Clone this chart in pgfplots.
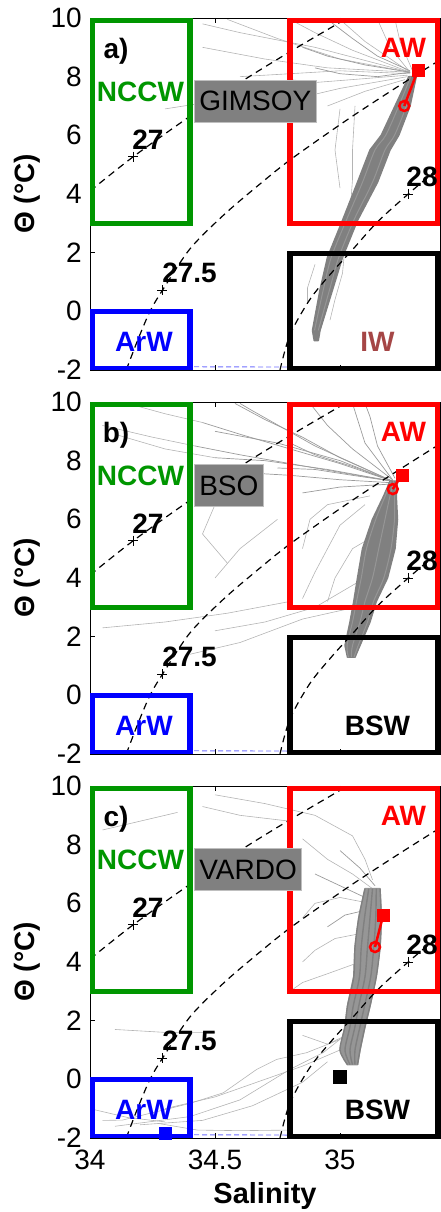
\documentclass[border=0pt]{standalone}
\usepackage{pgfplots}
\pgfplotsset{compat=1.18}
\usepackage{fontspec}
\setmainfont{Liberation Sans}
\definecolor{ncgreen}{RGB}{0,150,0}
\definecolor{iwred}{RGB}{165,70,70}
\definecolor{dgray}{RGB}{128,128,128}
\definecolor{lgray}{RGB}{150,150,150}
\definecolor{fgray}{RGB}{180,180,180}
\definecolor{mgray}{RGB}{155,155,155}
\definecolor{frzblue}{RGB}{110,110,255}
\newcommand\bigf{\fontsize{28}{32}\selectfont}

\tikzset{
 lab/.style={font=\bigf\bfseries, inner sep=0pt},
 graybox/.style={fill=dgray, draw=gray!50, line width=0.6pt, anchor=west, font=\bigf,
   text height=20pt, text depth=0pt, minimum height=42pt, inner xsep=5pt, inner ysep=0pt},
}
\pgfplotsset{
 ts/.style={
  scale only axis, width=350pt, height=352pt,
  xmin=34, xmax=35.4, ymin=-2, ymax=10,
  xtick={34,34.5,35}, ytick={-2,0,2,4,6,8,10},
  yticklabels={-2,0,2,4,6,8,10},
  tick align=inside, major tick length=5pt,
  every tick/.style={black, line width=0.6pt},
  axis line style={line width=0.7pt},
  yticklabel style={font=\bigf, inner sep=0pt, anchor=east, xshift=-8pt},
  xticklabel style={font=\bigf, inner sep=0pt, anchor=north, yshift=-12pt},
  ylabel={\bfseries Θ (°C)},
  ylabel style={font=\bigf, at={(axis description cs:-0.1786,0.5)}, anchor=center, inner sep=0pt},
  anchor=south west,
 },
 coreline/.style={color=lgray, line width=1pt, smooth, mark=none},
 corefill/.style={fill=dgray, draw=dgray, line width=1.5pt, line join=round, mark=none},
 thinl/.style={color=fgray, line width=0.6pt, mark=none},
 fanl/.style={color=mgray, line width=0.7pt, mark=none},
}

\newcommand\tsframe[2]{%
 \addplot[black, line width=1.2pt, dash pattern=on 7pt off 5pt, smooth] coordinates {(34,4.1)(34.173,5.27)(34.4,6.65)(34.6,7.8)(34.8,8.85)(35.03,10)};
 \addplot[black, line width=1.2pt, dash pattern=on 7pt off 5pt, smooth] coordinates {(34.145,-2)(34.19,-1)(34.24,0)(34.29,0.72)(34.4,2.13)(34.533,3.27)(34.66,4.2)(34.8,5.16)(35.027,6.52)(35.22,7.6)(35.4,8.57)};
 \addplot[black, line width=1.2pt, dash pattern=on 7pt off 5pt, smooth] coordinates {(34.76,-2)(34.8,-0.8)(34.88,0.41)(34.97,1.35)(35.05,2.1)(35.15,3.05)(35.273,4.0)(35.4,4.92)};
 \addplot[only marks, mark=+, mark size=5pt, black, mark options={line width=0.7pt}] coordinates {(34.173,5.27)(34.288,0.72)(35.273,4.0)};
 \addplot[frzblue, line width=0.9pt, dash pattern=on 5pt off 3pt, mark=none] coordinates {(34,-1.88)(34.8,-1.9)};
 \draw[ncgreen, line width=5.5pt] (axis cs:34.01,3.0) rectangle (axis cs:34.4,9.92);
 \draw[blue, line width=5.5pt] (axis cs:34.01,-1.95) rectangle (axis cs:34.4,0.0);
 \draw[red, line width=5.5pt] (axis cs:34.8,3.0) rectangle (axis cs:35.39,9.92);
 \draw[black, line width=5.5pt] (axis cs:34.8,-1.95) rectangle (axis cs:35.39,1.97);
 \node[lab, text=ncgreen] at (axis cs:34.202,7.48) {NCCW};
 \node[lab, text=red] at (axis cs:35.254,8.98) {AW};
 \node[lab, text=blue] at (axis cs:34.216,-1.03) {ArW};
 \node[lab, text=#2] at (axis cs:35.15,-1.03) {#1};
 \node[lab] at (axis cs:34.232,5.84) {27};
 \node[lab] at (axis cs:34.398,1.31) {27.5};
 \node[lab] at (axis cs:35.328,4.58) {28};
}

\begin{document}
\begin{tikzpicture}
\path[use as bounding box] (0,0) rectangle (441pt,1212pt);

% ---------------- panel a: GIMSOY
\begin{axis}[ts, at={(90pt,842pt)}, xticklabels={}]
 \addplot[thinl] coordinates {(35.28,8.15)(35.0,8.6)(34.75,9.3)(34.55,9.95)};
 \addplot[thinl] coordinates {(35.28,8.15)(34.95,8.3)(34.7,8.6)(34.45,9.0)};
 \addplot[thinl] coordinates {(35.28,8.15)(35.05,8.9)(34.9,9.5)(34.8,9.95)};
 \addplot[thinl] coordinates {(35.28,8.15)(35.1,9.2)(35.0,9.95)};
 \addplot[thinl] coordinates {(35.28,8.15)(35.2,9.0)(35.15,9.95)};
 \addplot[thinl] coordinates {(35.27,8.0)(35.0,7.6)(34.85,7.3)};
 \addplot[thinl] coordinates {(35.27,8.05)(35.05,7.9)(34.9,7.8)(34.8,7.9)};
 \addplot[thinl] coordinates {(35.29,8.2)(35.24,9.2)(35.22,9.95)};
 \addplot[thinl] coordinates {(35.26,7.9)(35.1,7.5)(34.95,7.0)};
 \addplot[thinl] coordinates {(35.28,8.15)(34.9,9.0)(34.6,9.5)(34.45,9.8)};
 \addplot[thinl] coordinates {(35.28,8.1)(35.0,8.2)(34.8,8.1)(34.6,8.0)};
 \addplot[fanl] coordinates {(35.28,8.15)(35.1,8.4)(34.95,8.7)(34.85,9.0)};
 \addplot[fanl] coordinates {(35.28,8.15)(35.15,8.0)(35.0,8.1)(34.9,8.3)};
 \addplot[fanl] coordinates {(35.28,8.2)(35.15,8.7)(35.05,9.3)(34.95,9.95)};
 \addplot[thinl] coordinates {(35.06,7.0)(35.05,5.5)(35.05,4.5)(35.04,3.3)};
 \addplot[thinl] coordinates {(35.0,6.9)(34.98,5.5)(35.0,4.2)};
 \addplot[thinl] coordinates {(35.02,2.2)(35.01,1.3)(34.98,0.4)(34.96,-0.3)};
 \addplot[thinl] coordinates {(34.97,1.5)(34.94,0.8)(34.92,0.1)};
 \addplot[thinl] coordinates {(34.9,1.6)(34.87,0.8)(34.87,0.3)};
 \addplot[thinl] coordinates {(34.3,6.9)(34.45,7.1)(34.55,7.3)};
 \addplot[corefill] coordinates {(35.275,8.0)(35.22,7.0)(35.165,6.0)(35.12,5.5)(35.07,4.4)(35.01,3.1)(34.95,1.84)(34.92,0.73)(34.89,-0.65)(34.897,-1.0)(34.913,-1.0)(34.92,-0.65)(34.97,0.73)(35.01,1.84)(35.07,3.1)(35.15,4.4)(35.2,5.5)(35.235,6.0)(35.28,7.0)(35.305,8.0)} --cycle;
 \addplot[coreline] coordinates {(35.283,8.0)(35.235,7.0)(35.183,6.0)(35.14,5.5)(35.09,4.4)(35.025,3.1)(34.965,1.84)(34.933,0.73)(34.898,-0.65)};
 \addplot[coreline] coordinates {(35.298,8.0)(35.265,7.0)(35.218,6.0)(35.18,5.5)(35.13,4.4)(35.055,3.1)(34.995,1.84)(34.958,0.73)(34.913,-0.65)};
 \tsframe{IW}{iwred}
 \addplot[red, line width=2.5pt, mark=none] coordinates {(35.257,7.0)(35.312,8.23)};
 \addplot[red, only marks, mark=square*, mark size=6pt] coordinates {(35.312,8.23)};
 \addplot[red, only marks, mark=o, mark size=5pt, mark options={line width=2.5pt, fill=white}] coordinates {(35.257,7.0)};
 \node[lab] at (axis cs:34.104,8.88) {a)};
 \node[graybox] at (axis cs:34.416,7.17) {GIMSOY};
\end{axis}

% ---------------- panel b: BSO
\begin{axis}[ts, at={(90pt,458pt)}, xticklabels={}]
 \addplot[thinl] coordinates {(34.42,8.5)(34.25,8.8)(34.05,9.2)};
 \addplot[thinl] coordinates {(34.45,9.3)(34.3,9.6)(34.15,9.95)};
 \addplot[thinl] coordinates {(34.5,8.1)(34.3,8.4)(34.1,8.9)};
 \addplot[thinl] coordinates {(35.1,6.5)(35.0,5.8)(34.95,5.0)(34.9,4.2)(34.85,3.3)};
 \addplot[thinl] coordinates {(35.15,5.5)(35.05,5.0)(34.98,4.0)(34.95,3.2)};
 \addplot[thinl] coordinates {(35.12,6.8)(34.95,6.5)(34.88,6.0)(34.85,5.0)};
 \addplot[thinl] coordinates {(35.1,4.0)(35.0,3.5)(34.9,3.0)(34.7,2.5)(34.5,2.2)};
 \addplot[thinl] coordinates {(35.06,3.0)(34.85,2.6)(34.6,1.8)(34.4,1.4)};
 \addplot[thinl] coordinates {(34.8,3.2)(34.55,2.8)(34.3,2.5)(34.05,2.3)};
 \addplot[thinl] coordinates {(34.75,6.0)(34.6,5.0)(34.5,4.0)};
 \addplot[thinl] coordinates {(34.5,6.5)(34.45,5.5)(34.55,4.5)};
 \addplot[fanl] coordinates {(35.21,7.3)(35.0,7.6)(34.8,7.9)(34.6,8.2)(34.42,8.5)};
 \addplot[fanl] coordinates {(35.21,7.3)(35.0,7.9)(34.8,8.4)(34.6,8.9)(34.45,9.3)};
 \addplot[fanl] coordinates {(35.21,7.3)(35.0,8.1)(34.85,8.8)(34.7,9.4)(34.58,9.95)};
 \addplot[fanl] coordinates {(35.21,7.35)(35.05,8.4)(34.95,9.2)(34.88,9.95)};
 \addplot[fanl] coordinates {(35.21,7.35)(35.1,8.6)(35.05,9.95)};
 \addplot[fanl] coordinates {(35.2,7.25)(35.0,7.35)(34.8,7.5)(34.6,7.6)};
 \addplot[fanl] coordinates {(35.2,7.2)(35.0,7.1)(34.85,6.9)};
 \addplot[fanl] coordinates {(35.21,7.3)(34.95,7.7)(34.7,8.0)(34.5,8.1)};
 \addplot[fanl] coordinates {(35.21,7.3)(34.9,8.5)(34.65,9.7)(34.6,9.95)};
 \addplot[fanl] coordinates {(35.22,7.4)(35.15,8.5)(35.12,9.5)(35.1,9.95)};
 \addplot[fanl] coordinates {(35.21,7.3)(35.05,7.5)(34.9,7.7)(34.75,7.75)};
 \addplot[fanl] coordinates {(35.21,7.3)(35.0,8.0)(34.75,8.6)(34.5,9.0)};
 \addplot[fanl] coordinates {(35.21,7.3)(35.05,7.8)(34.9,8.2)(34.8,8.6)};
 \addplot[corefill] coordinates {(35.2,7.3)(35.175,6.8)(35.13,6.0)(35.09,5.0)(35.07,4.0)(35.055,3.2)(35.04,2.5)(35.02,1.7)(35.03,1.3)(35.06,1.3)(35.08,1.7)(35.12,2.5)(35.145,3.2)(35.19,4.0)(35.22,5.0)(35.23,6.0)(35.225,6.8)(35.23,7.3)} --cycle;
 \addplot[coreline] coordinates {(35.204,7.3)(35.181,6.8)(35.143,6.0)(35.106,5.0)(35.085,4.0)(35.066,3.2)(35.05,2.5)(35.028,1.7)(35.034,1.3)};
 \addplot[coreline] coordinates {(35.215,7.3)(35.2,6.8)(35.18,6.0)(35.155,5.0)(35.13,4.0)(35.1,3.2)(35.08,2.5)(35.05,1.7)(35.045,1.3)};
 \addplot[coreline] coordinates {(35.226,7.3)(35.219,6.8)(35.218,6.0)(35.204,5.0)(35.175,4.0)(35.134,3.2)(35.11,2.5)(35.073,1.7)(35.056,1.3)};
 \tsframe{BSW}{black}
 \addplot[red, line width=2.5pt, mark=none] coordinates {(35.211,7.03)(35.247,7.51)};
 \addplot[red, only marks, mark=square*, mark size=6pt] coordinates {(35.247,7.51)};
 \addplot[red, only marks, mark=o, mark size=5pt, mark options={line width=2.5pt, fill=white}] coordinates {(35.211,7.03)};
 \node[lab] at (axis cs:34.104,8.88) {b)};
 \node[graybox] at (axis cs:34.416,7.17) {BSO};
\end{axis}

% ---------------- panel c: VARDO
\begin{axis}[ts, at={(90pt,74pt)}, xticklabels={34,34.5,35},
  xlabel={\bfseries Salinity},
  xlabel style={font=\fontsize{29}{32}\selectfont, at={(axis description cs:0.5,0)}, anchor=north, inner sep=0pt, yshift=-44pt}]
 \addplot[thinl] coordinates {(35.13,6.5)(35.05,7.0)(34.95,7.5)(34.85,8.2)};
 \addplot[thinl] coordinates {(35.12,6.0)(35.0,6.2)(34.9,6.0)(34.85,5.5)};
 \addplot[thinl] coordinates {(35.1,5.0)(34.98,4.8)(34.9,4.4)(34.85,4.0)};
 \addplot[thinl] coordinates {(35.08,4.0)(34.95,3.6)(34.85,3.3)(34.8,3.0)};
 \addplot[thinl] coordinates {(35.13,6.8)(35.1,7.5)(35.05,8.3)};
 \addplot[thinl] coordinates {(35.05,8.3)(34.9,9.0)(34.7,9.4)(34.5,9.7)};
 \addplot[thinl] coordinates {(34.8,8.8)(34.6,9.0)(34.45,9.3)};
 \addplot[thinl] coordinates {(34.35,9.1)(34.2,8.8)(34.05,8.5)};
 \addplot[thinl] coordinates {(34.1,1.7)(34.3,1.6)(34.5,1.6)};
 \addplot[thinl] coordinates {(34.05,-1.4)(34.13,-1.39)(34.4,-0.82)(34.533,-0.46)(34.667,0.34)(34.747,0.68)(34.867,0.91)(35.0,1.36)};
 \addplot[thinl] coordinates {(34.1,-1.6)(34.4,-1.27)(34.6,-0.7)(34.8,0.34)(34.933,0.91)(35.02,1.5)};
 \addplot[thinl] coordinates {(34.2,-1.55)(34.45,-1.4)(34.65,-0.9)(34.85,-0.1)(34.95,0.6)};
 \addplot[thinl] coordinates {(34.27,-1.5)(34.43,-1.73)(34.6,-1.75)(34.8,-1.73)};
 \addplot[thinl] coordinates {(34.3,-1.0)(34.5,-0.6)(34.7,0.0)(34.85,0.45)(35.0,1.0)};
 \addplot[thinl] coordinates {(34.0,-1.0)(34.15,-1.3)(34.3,-1.45)};
 \addplot[thinl] coordinates {(34.85,1.5)(34.95,1.2)(35.05,1.6)};
 \addplot[fanl] coordinates {(35.14,6.6)(35.08,7.2)(35.0,7.8)};
 \addplot[fanl] coordinates {(35.12,5.8)(35.02,5.6)(34.95,5.2)};
 \addplot[fanl] coordinates {(35.1,6.2)(35.0,6.6)(34.9,7.0)};
 \addplot[corefill, fill=lgray, draw=lgray] coordinates {(35.1,6.5)(35.075,5.5)(35.06,4.5)(35.055,3.5)(35.03,2.5)(35.02,1.8)(35.0,1.0)(35.03,0.5)(35.07,0.5)(35.08,1.0)(35.1,1.8)(35.12,2.5)(35.145,3.5)(35.16,4.5)(35.165,5.5)(35.16,6.5)} --cycle;
 \addplot[coreline, color=dgray, line width=1.4pt] coordinates {(35.1,6.5)(35.075,5.5)(35.06,4.5)(35.055,3.5)(35.03,2.5)(35.02,1.8)(35.0,1.0)(35.03,0.5)};
 \addplot[coreline, color=dgray, line width=1.4pt] coordinates {(35.115,6.5)(35.098,5.5)(35.085,4.5)(35.078,3.5)(35.053,2.5)(35.04,1.8)(35.02,1.0)(35.04,0.5)};
 \addplot[coreline, color=dgray, line width=1.4pt] coordinates {(35.13,6.5)(35.12,5.5)(35.11,4.5)(35.1,3.5)(35.075,2.5)(35.06,1.8)(35.04,1.0)(35.05,0.5)};
 \addplot[coreline, color=dgray, line width=1.4pt] coordinates {(35.145,6.5)(35.143,5.5)(35.135,4.5)(35.123,3.5)(35.098,2.5)(35.08,1.8)(35.06,1.0)(35.06,0.5)};
 \addplot[coreline, color=dgray, line width=1.4pt] coordinates {(35.16,6.5)(35.165,5.5)(35.16,4.5)(35.145,3.5)(35.12,2.5)(35.1,1.8)(35.08,1.0)(35.07,0.5)};
 \tsframe{BSW}{black}
 \addplot[red, line width=2.5pt, mark=none] coordinates {(35.14,4.51)(35.173,5.6)};
 \addplot[red, only marks, mark=square*, mark size=6pt] coordinates {(35.173,5.6)};
 \addplot[red, only marks, mark=o, mark size=5pt, mark options={line width=2.5pt, fill=white}] coordinates {(35.14,4.51)};
 \addplot[black, only marks, mark=square*, mark size=6.5pt] coordinates {(35.0,0.08)};
 \addplot[blue, only marks, mark=square*, mark size=6pt] coordinates {(34.3,-1.83)};
 \node[lab] at (axis cs:34.104,8.88) {c)};
 \node[graybox] at (axis cs:34.416,7.17) {VARDO};
\end{axis}
\end{tikzpicture}
\end{document}
